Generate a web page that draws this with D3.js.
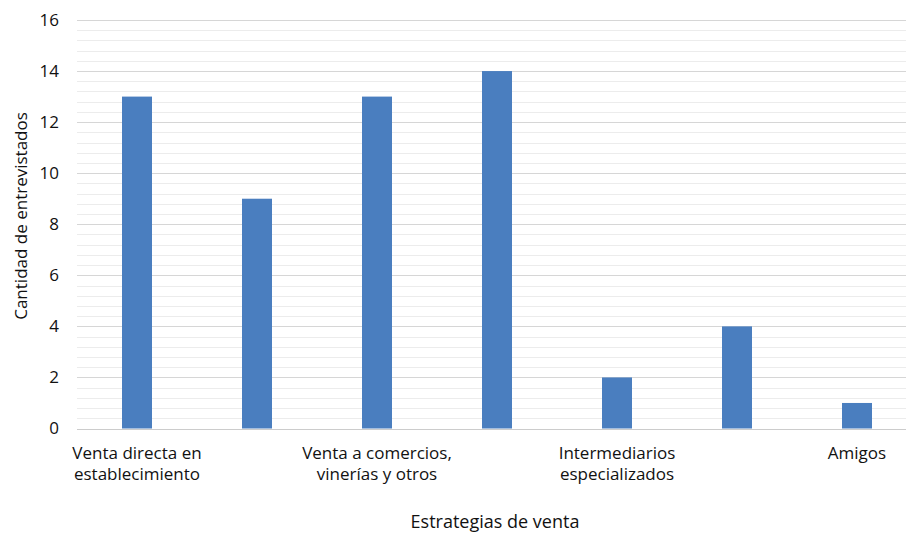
<!DOCTYPE html>
<html><head><meta charset="utf-8">
<script src="https://cdn.jsdelivr.net/npm/d3@7"></script>
<style>body{margin:0;background:#fff;overflow:hidden}svg{display:block}text{font-family:"Open Sans",Lato,sans-serif;fill:#111}</style>
</head><body>
<svg id="c" width="906" height="533"></svg>
<script>
// Only every other category label is shown in the reference
const categories = [["Venta directa en","establecimiento"], [], ["Venta a comercios,","vinerías y otros"], [], ["Intermediarios","especializados"], [], ["Amigos"]];
const values = [13, 9, 13, 14, 2, 4, 1];
const yTicks = [0, 2, 4, 6, 8, 10, 12, 14, 16];
const xTitle = "Estrategias de venta";
const yTitle = "Cantidad de entrevistados";

(function () {
const svg = d3.select("#c");
const pLeft = 77, pRight = 917, pTop = 20, pBottom = 428.5;
const x = d3.scaleBand().domain(d3.range(values.length)).range([pLeft, pRight]).paddingInner(0.75).paddingOuter(0.375);
const y = d3.scaleLinear().domain([0, 16]).range([pBottom, pTop]);

// minor gridlines
const minor = d3.range(0, 16.001, 0.4).filter(v => Math.abs(v/2 - Math.round(v/2)) > 1e-6);
svg.append("g").selectAll("line").data(minor).join("line")
  .attr("x1", pLeft).attr("x2", pRight).attr("y1", d => Math.round(y(d))+0.5).attr("y2", d => Math.round(y(d))+0.5)
  .attr("stroke", "#ececec").attr("stroke-width", 1);
// major gridlines
svg.append("g").selectAll("line").data(yTicks).join("line")
  .attr("x1", pLeft).attr("x2", pRight).attr("y1", d => Math.round(y(d))+0.5).attr("y2", d => Math.round(y(d))+0.5)
  .attr("stroke", d => d === 0 ? "#cccccc" : "#d6d6d6").attr("stroke-width", 1);

// bars
svg.append("g").selectAll("rect").data(values).join("rect")
  .attr("x", (d, i) => x(i)).attr("width", x.bandwidth())
  .attr("y", d => y(d)).attr("height", d => y(0) - y(d))
  .attr("fill", "#4a7ebf");

// y axis
const yAxis = svg.append("g").attr("transform", `translate(${pLeft},0)`)
  .call(d3.axisLeft(y).tickValues(yTicks).tickSize(0).tickPadding(18));
yAxis.select(".domain").remove();
yAxis.selectAll("text").style("font-size", "17px").style("fill", "#111").style("font-family", "Open Sans");

// x axis labels
const xg = svg.append("g");
categories.forEach((lines, i) => {
  const t = xg.append("text").attr("x", x(i) + x.bandwidth()/2).attr("y", 459)
    .attr("text-anchor", "middle").style("font-size", "17px");
  lines.forEach((l, j) => t.append("tspan").attr("x", x(i) + x.bandwidth()/2).attr("dy", j ? 21 : 0).text(l));
});

svg.append("text").attr("x", 495).attr("y", 528).attr("text-anchor", "middle").style("font-size", "18px").text(xTitle);
svg.append("text").attr("transform", "translate(27,216) rotate(-90)").attr("text-anchor", "middle").style("font-size", "17px").text(yTitle);
})();
</script>
</body></html>
